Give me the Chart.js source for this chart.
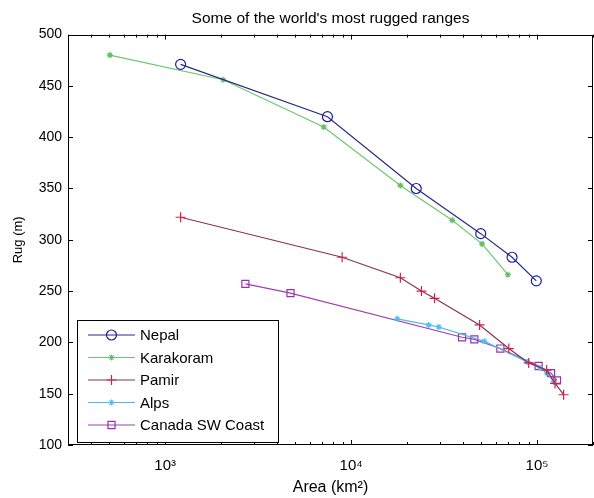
<!DOCTYPE html>
<html>
<head>
<meta charset="utf-8">
<script src="https://cdn.jsdelivr.net/npm/chart.js@4"></script>
<style>
  body { margin: 0; background: #fff; }
  #wrap { width: 594px; height: 498px; }
</style>
</head>
<body>
<div id="wrap"><canvas id="myChart" width="594" height="498"></canvas></div>
<script>
// values (area in km2, rug in m)
const nepalArea = [1210, 7460, 22400, 49800, 73400, 99100];
const nepalRug = [471, 420, 350, 306, 283, 260];

const karaArea = [504, 2050, 7120, 18400, 35000, 50600, 69700];
const karaRug = [480, 456, 410, 353, 319, 296, 266];

const pamirArea = [1210, 8950, 18400, 23900, 28100, 49100, 70500, 90200, 112700, 125000, 139000];
const pamirRug = [322, 283, 263, 250, 243, 217, 194, 180, 173, 160, 149];

const alpsArea = [17700, 26100, 29600, 52100, 88700, 104000, 113000, 123000];
const alpsRug = [223, 217, 215, 201, 181, 175, 170, 162];

const canadaArea = [2700, 4720, 39500, 46000, 63500, 102000, 119000, 128000];
const canadaRug = [257, 248, 205, 203, 194, 177, 170, 163];

const names = ['Nepal', 'Karakoram', 'Pamir', 'Alps', 'Canada SW Coast'];
const xMajor = [1000, 10000, 100000];
const yTicks = [100, 150, 200, 250, 300, 350, 400, 450, 500];

function pts(xs, ys) {
    let out = [];
    for (let i = 0; i < xs.length; i++) {
        out.push({x: xs[i], y: ys[i]});
    }
    return out;
}

const sup = {'3': '\u00b3', '4': '\u2074', '5': '\u2075'};
const fam = '"Liberation Sans", Arial, sans-serif';

const styles = [
    {line: '#2a2a86', point: '#1c1ca8', style: 'circle', r: 5, fill: 'rgba(0,0,0,0)'},
    {line: '#6cc86c', point: '#60c060', style: 'star', r: 3, fill: '#60c060'},
    {line: '#8a3450', point: '#d0204a', style: 'cross', r: 5, fill: 'rgba(0,0,0,0)'},
    {line: '#50b8e8', point: '#50c0ee', style: 'star', r: 3, fill: '#50c0ee'},
    {line: '#a040b0', point: '#9a30b0', style: 'rect', r: 5, fill: 'rgba(0,0,0,0)'}
];

const seriesData = [
    pts(nepalArea, nepalRug),
    pts(karaArea, karaRug),
    pts(pamirArea, pamirRug),
    pts(alpsArea, alpsRug),
    pts(canadaArea, canadaRug)
];

let datasets = [];
for (let i = 0; i < names.length; i++) {
    datasets.push({
        label: names[i],
        data: seriesData[i],
        showLine: true,
        borderColor: styles[i].line,
        borderWidth: 1.2,
        pointStyle: styles[i].style,
        pointRadius: styles[i].r,
        pointBorderColor: styles[i].point,
        pointBackgroundColor: styles[i].fill,
        pointBorderWidth: 1.2
    });
}

// inward ticks on all four sides, box, and the legend
const boxPlugin = {
    id: 'boxPlugin',
    afterDraw(chart) {
        const ctx = chart.ctx;
        const a = chart.chartArea;
        const xs = chart.scales.x, ys = chart.scales.y;
        ctx.save();
        ctx.strokeStyle = '#000';
        ctx.lineWidth = 1;
        ctx.strokeRect(Math.round(a.left) + 0.5, Math.round(a.top) + 0.5,
            Math.round(a.right - a.left) - 1, Math.round(a.bottom - a.top) - 1);

        ctx.beginPath();
        for (let v of yTicks) {
            let p = Math.round(ys.getPixelForValue(v)) + 0.5;
            ctx.moveTo(a.left, p); ctx.lineTo(a.left + 5, p);
            ctx.moveTo(a.right, p); ctx.lineTo(a.right - 5, p);
        }
        for (let k = 100; k <= 100000; k *= 10) {
            for (let m = 1; m <= 9; m++) {
                let v = k * m;
                if (v < xs.min || v > xs.max) continue;
                let p = Math.round(xs.getPixelForValue(v)) + 0.5;
                let len = m === 1 ? 5 : 3;
                ctx.moveTo(p, a.bottom); ctx.lineTo(p, a.bottom - len);
                ctx.moveTo(p, a.top); ctx.lineTo(p, a.top + len);
            }
        }
        ctx.stroke();

        // legend
        const lx = 77, ly = 320, lw = 201, lh = 122;
        ctx.fillStyle = '#fff';
        ctx.fillRect(lx, ly, lw, lh);
        ctx.strokeRect(lx + 0.5, ly + 0.5, lw, lh);
        ctx.font = '15px ' + fam;
        ctx.textBaseline = 'middle';
        for (let i = 0; i < names.length; i++) {
            let y = ly + 15 + i * 22.5;
            ctx.strokeStyle = styles[i].line;
            ctx.lineWidth = 1.2;
            ctx.beginPath();
            ctx.moveTo(88, y); ctx.lineTo(135, y);
            ctx.stroke();
            ctx.strokeStyle = styles[i].point;
            ctx.fillStyle = styles[i].fill;
            Chart.helpers.drawPoint(ctx, {pointStyle: styles[i].style, radius: styles[i].r, borderWidth: 1.2}, 111.5, y);
            ctx.fillStyle = '#000';
            ctx.fillText(names[i], 140, y + 1);
        }
        ctx.restore();
    }
};

const config = {
    type: 'scatter',
    data: {datasets: datasets},
    options: {
        responsive: false,
        animation: false,
        layout: {autoPadding: false, padding: {right: 1, left: 0, bottom: 0, top: 0}},
        plugins: {
            legend: {display: false},
            tooltip: {enabled: false},
            title: {
                display: true,
                fullSize: false,
                text: "Some of the world's most rugged ranges",
                color: '#000',
                font: {size: 15.5, weight: 'normal', family: fam},
                padding: {top: 9, bottom: 7}
            }
        },
        scales: {
            x: {
                type: 'logarithmic',
                min: 300,
                max: 200000,
                afterBuildTicks: function(scale) {
                    scale.ticks = xMajor.map(v => ({value: v}));
                },
                afterFit: function(scale) { scale.height = 53; },
                grid: {display: false, drawTicks: false},
                border: {display: false},
                ticks: {
                    color: '#000',
                    padding: 12,
                    maxRotation: 0,
                    autoSkip: false,
                    font: {size: 15, family: fam},
                    callback: function(v) {
                        let e = Math.round(Math.log10(v));
                        return '10' + sup[String(e)];
                    }
                },
                title: {
                    display: true,
                    text: 'Area (km\u00b2)',
                    color: '#000',
                    font: {size: 16, family: fam},
                    padding: {top: 0, bottom: 1}
                }
            },
            y: {
                min: 100,
                max: 500,
                afterBuildTicks: function(scale) {
                    scale.ticks = yTicks.map(v => ({value: v}));
                },
                afterFit: function(scale) { scale.width = 68; },
                grid: {display: false, drawTicks: false},
                border: {display: false},
                ticks: {
                    color: '#000',
                    padding: 6,
                    font: {size: 14, family: fam}
                },
                title: {
                    display: true,
                    text: 'Rug (m)',
                    color: '#000',
                    font: {size: 13, family: fam},
                    padding: {top: 11, bottom: 0}
                }
            }
        }
    },
    plugins: [boxPlugin]
};

let chartEl = document.getElementById('myChart');
var myChart = new Chart(chartEl, config);
</script>
</body>
</html>
